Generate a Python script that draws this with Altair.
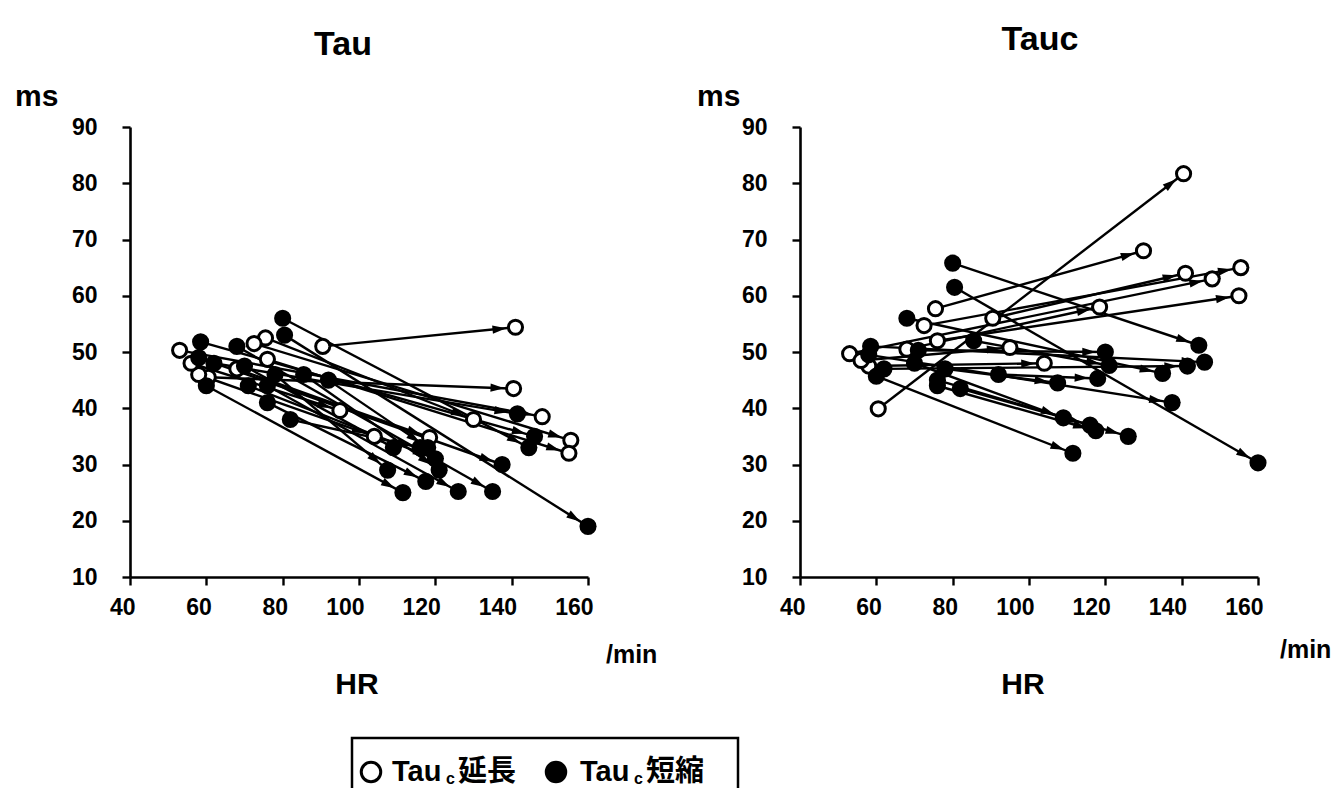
import math
import altair as alt
import pandas as pd

# Per-subject values: heart rate at rest and at the higher rate, Tau and Tauc (ms)
group = ["延長"] * 9 + ["短縮"] * 15
hr_rest = [60.5, 90.5, 75.5, 72.5, 76, 53, 68, 58, 56,
           80, 80.5, 58.5, 58, 62, 60, 76, 68, 71, 76, 82, 85.5, 92, 78, 70]
hr_pace = [140.5, 141, 130, 155.5, 155, 148, 118.5, 104, 95,
           144.5, 160, 146, 137.5, 141.5, 111.5, 126, 135, 120, 117.5, 116, 121, 118, 107.5, 109]
tau_rest = [45.5, 51, 52.5, 51.5, 48.7, 50.3, 47, 46, 48,
            56, 53, 51.8, 49, 48, 44, 44, 51, 44, 41, 38, 46, 45, 46, 47.5]
tau_pace = [43.5, 54.4, 38, 34.3, 32, 38.5, 34.8, 35, 39.6,
            33, 19, 35, 30, 39, 25, 25.2, 25.2, 31, 27, 33, 29, 33, 29, 33]
tauc_rest = [39.9, 56, 57.7, 54.7, 52, 49.7, 50.5, 47.5, 48.5,
             65.8, 61.5, 51, 49.5, 47, 45.7, 45, 56, 50.3, 44, 43.5, 52, 46, 47, 48]
tauc_pace = [81.7, 64, 68, 65, 60, 63, 58, 48, 50.8,
             51.2, 30.3, 48.2, 41, 47.5, 32, 35, 46.2, 50, 36, 37, 47.6, 45.3, 44.5, 38.3]

x_ticks = [40, 60, 80, 100, 120, 140, 160]
y_ticks = [10, 20, 30, 40, 50, 60, 70, 80, 90]

W, H = 458, 450
X_DOM = [40, 160]
Y_DOM = [10, 90]
PX_X = W / (X_DOM[1] - X_DOM[0])
PX_Y = H / (Y_DOM[1] - Y_DOM[0])

FONT = "Liberation Sans"
CJK = "Noto Sans CJK JP"
ARROW = "M0,-1L0.6,1L-0.6,1Z"
DOT_SIZE = 200
HEAD_SIZE = 190
HEAD_BACK = math.sqrt(DOT_SIZE / math.pi) + 1.3 + math.sqrt(HEAD_SIZE) / 2


def segments(v_rest, v_pace):
    rows = []
    for g, h1, h2, a, b in zip(group, hr_rest, hr_pace, v_rest, v_pace):
        dx = (h2 - h1) * PX_X
        dy = (b - a) * PX_Y
        ln = math.hypot(dx, dy)
        rows.append(dict(
            group=g, hr1=h1, hr2=h2, v1=a, v2=b,
            ahr=h2 - HEAD_BACK * dx / ln / PX_X,
            av=b - HEAD_BACK * dy / ln / PX_Y,
            ang=math.degrees(math.atan2(dx, dy)) % 360,
        ))
    return pd.DataFrame(rows)


def points(v_rest, v_pace):
    a = pd.DataFrame({"hr": hr_rest, "v": v_rest, "group": group})
    b = pd.DataFrame({"hr": hr_pace, "v": v_pace, "group": group})
    return pd.concat([a, b], ignore_index=True)


one = pd.DataFrame({"k": [0]})


def label(text, x, y, size, align="left", font=FONT, weight="normal", baseline="middle"):
    return alt.Chart(one).mark_text(
        text=text, font=font, fontSize=size, fontWeight=weight, color="black",
        align=align, baseline=baseline,
    ).encode(x=alt.value(x), y=alt.value(y))


def panel(v_rest, v_pace, title, title_x, title_y, ms_x, hr_x, min_x, min_y, extra=()):
    seg = segments(v_rest, v_pace)
    pts = points(v_rest, v_pace)
    xs = alt.Scale(domain=X_DOM, nice=False, zero=False)
    ys = alt.Scale(domain=Y_DOM, nice=False, zero=False)
    xaxis = alt.Axis(values=x_ticks, title=None, grid=False, labelAlign="right",
                     labelOffset=5, labelPadding=11, labelBaseline="top")
    yaxis = alt.Axis(values=y_ticks, title=None, grid=False, labelPadding=25,
                     labelBaseline="middle")
    rules = alt.Chart(seg).mark_rule(color="black", strokeWidth=2.4).encode(
        x=alt.X("hr1:Q", scale=xs, axis=xaxis),
        y=alt.Y("v1:Q", scale=ys, axis=yaxis),
        x2="hr2:Q", y2="v2:Q",
    )
    heads = alt.Chart(seg).mark_point(
        shape=ARROW, filled=True, color="black", size=HEAD_SIZE, opacity=1
    ).encode(
        x=alt.X("ahr:Q", scale=xs), y=alt.Y("av:Q", scale=ys),
        angle=alt.Angle("ang:Q", scale=None),
    )
    dots = alt.Chart(pts).mark_point(
        shape="circle", filled=True, size=DOT_SIZE, stroke="black", strokeWidth=3,
        opacity=1, fillOpacity=1,
    ).encode(
        x=alt.X("hr:Q", scale=xs), y=alt.Y("v:Q", scale=ys),
        fill=alt.Fill("group:N", scale=alt.Scale(domain=["延長", "短縮"], range=["white", "black"]),
                      legend=None),
    )
    texts = [
        label(title, title_x, title_y, 34, align="center", weight="bold"),
        label("ms", ms_x, -30, 30, weight="bold"),
        label("HR", hr_x, H + 108, 30, align="center", weight="bold"),
        label("/min", min_x, min_y, 25, weight="bold"),
    ]
    return alt.layer(rules, heads, dots, *texts, *extra).properties(width=W, height=H)


# legend box drawn below the left panel (pixel positions relative to its plot area)
legend_parts = [
    alt.Chart(one).mark_rect(fill="white", stroke="black", strokeWidth=2.5).encode(
        x=alt.value(222), x2=alt.value(608), y=alt.value(611), y2=alt.value(720)),
    alt.Chart(one).mark_point(shape="circle", filled=True, fill="white", stroke="black",
                              strokeWidth=3, size=380, opacity=1).encode(
        x=alt.value(241), y=alt.value(645)),
    alt.Chart(one).mark_point(shape="circle", filled=True, fill="black", stroke="black",
                              strokeWidth=3, size=380, opacity=1).encode(
        x=alt.value(426), y=alt.value(645)),
    label("Tau", 262, 645, 29, weight="bold"),
    label("c", 316, 652, 16, weight="bold"),
    label("延長", 328, 645, 29, font=CJK, weight="bold"),
    label("Tau", 450, 645, 29, weight="bold"),
    label("c", 504, 652, 16, weight="bold"),
    label("短縮", 516, 645, 29, font=CJK, weight="bold"),
    # keeps the page origin fixed relative to the plot
    alt.Chart(one).mark_point(size=1, color="white", opacity=1, filled=True).encode(
        x=alt.value(-129), y=alt.value(-126)),
]

left = panel(tau_rest, tau_pace, "Tau", 213, -82, -115, 227, 476, 528, legend_parts)
right = panel(tauc_rest, tauc_pace, "Tauc", 240, -87, -103, 223, 480, 523)

chart = alt.hconcat(left, right, spacing=212, bounds="flush").properties(
    padding=0, background="white"
).configure_view(stroke=None).configure_axis(
    domainColor="black", domainWidth=2.6, tickColor="black", tickWidth=2.4, tickSize=8,
    labelFont=FONT, labelFontSize=23, labelFontWeight="bold", labelColor="black",
)

chart.save("out.html", embed_options={"renderer": "svg", "actions": False})
